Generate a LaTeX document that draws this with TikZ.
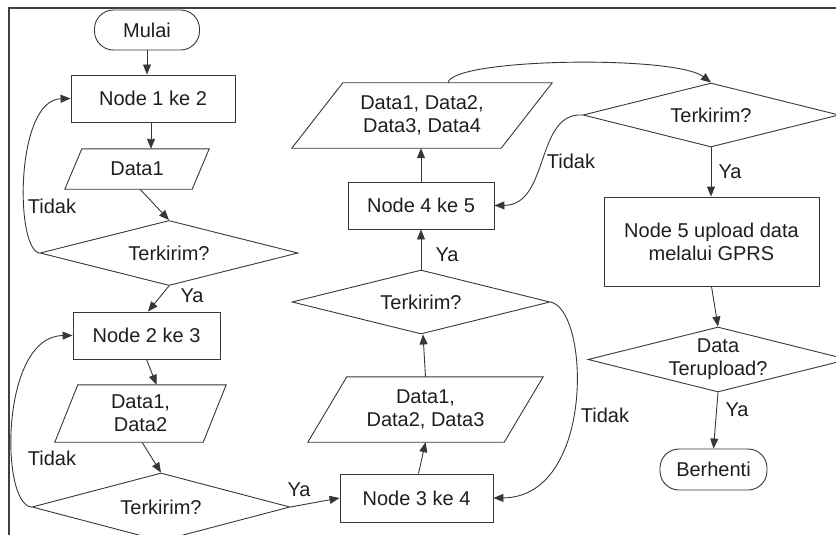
\documentclass[tikz,border=0pt]{standalone}
\usepackage{fontspec}
\setmainfont{Liberation Sans}
\usetikzlibrary{shapes.geometric,arrows.meta}
\definecolor{lc}{RGB}{55,55,55}
\definecolor{tc}{RGB}{30,30,30}
\begin{document}
\begin{tikzpicture}[x=1pt,y=-1pt,
  every node/.style={font=\fontsize{20}{23}\selectfont, text=tc},
  box/.style={draw=lc, line width=0.9pt, rectangle, inner sep=0pt, align=center},
  term/.style={box, rounded corners=19pt},
  io/.style={rectangle, inner sep=0pt, align=center},
  shp/.style={draw=lc, line width=0.9pt, line join=miter},
  dec/.style={draw=lc, line width=0.9pt, diamond, inner sep=0pt, aspect=4},
  lbl/.style={inner sep=0pt, align=center},
  arr/.style={draw=lc, line width=0.9pt, -{Triangle[length=10pt,width=8pt]}},
]
\useasboundingbox (0,0) rectangle (836,535);
\draw[line width=1.4pt, black!75] (9,540) -- (9,8) -- (840,8);

% nodes
\node[term, minimum width=105pt, minimum height=40pt] (m) at (147,30) {Mulai};
\node[box, minimum width=164pt, minimum height=47pt] (n1) at (153,98.5) {Node 1 ke 2};
\node[io, minimum width=127pt, minimum height=40pt] (p1) at (137,169) {Data1};
\draw[shp] ([xshift=-8.5pt]p1.south west) -- ([xshift=8.5pt]p1.north west) -- ([xshift=8.5pt]p1.north east) -- ([xshift=-8.5pt]p1.south east) -- cycle;
\node[dec, minimum width=258pt, minimum height=65pt] (d1) at (169,253) {};
\node[lbl] (t1) at (d1) {Terkirim?};

\node[box, minimum width=147pt, minimum height=47pt] (n2) at (146.5,335.5) {Node 2 ke 3};
\node[io, minimum width=148pt, minimum height=57pt] (p2) at (140.5,413.5) {Data1,\\Data2};
\draw[shp] ([xshift=-11.5pt]p2.south west) -- ([xshift=11.5pt]p2.north west) -- ([xshift=11.5pt]p2.north east) -- ([xshift=-11.5pt]p2.south east) -- cycle;
\node[dec, minimum width=258pt, minimum height=68pt] (d2) at (161,507) {};
\node[lbl] (t2) at (d2) {Terkirim?};

\node[box, minimum width=153pt, minimum height=48pt] (n3) at (416.5,498) {Node 3 ke 4};
\node[io, minimum width=196pt, minimum height=65pt] (p3) at (425.5,409.5) {Data1,\\Data2, Data3};
\draw[shp] ([xshift=-19.5pt]p3.south west) -- ([xshift=19.5pt]p3.north west) -- ([xshift=19.5pt]p3.north east) -- ([xshift=-19.5pt]p3.south east) -- cycle;
\node[dec, minimum width=258pt, minimum height=64pt] (d3) at (421,302) {};
\node[lbl] (t3) at (d3) {Terkirim?};
\node[box, minimum width=146pt, minimum height=47pt] (n4) at (421,205.5) {Node 4 ke 5};
\node[io, minimum width=209pt, minimum height=65pt] (p4) at (422,115.5) {Data1, Data2,\\Data3, Data4};
\draw[shp] ([xshift=-25.5pt]p4.south west) -- ([xshift=25.5pt]p4.north west) -- ([xshift=25.5pt]p4.north east) -- ([xshift=-25.5pt]p4.south east) -- cycle;

\node[dec, minimum width=256pt, minimum height=64pt] (d4) at (711,115) {};
\node[lbl] (t4) at (d4) {Terkirim?};
\node[box, minimum width=215pt, minimum height=89pt] (n5) at (711.5,241.5) {Node 5 upload data\\melalui GPRS};
\node[dec, minimum width=260pt, minimum height=65pt] (d5) at (718,359.5) {};
\node[lbl] (t5) at (d5) {Data\\Terupload?};
\node[term, minimum width=107pt, minimum height=41pt] (b) at (713.5,469.5) {Berhenti};

% connectors
\draw[arr] (m.south) -- (m.south |- n1.north);
\draw[arr] ([xshift=-2pt]n1.south) -- ([xshift=-2pt]n1.south |- p1.north);
\draw[arr] ([xshift=3pt]p1.south) -- (d1.north);
\draw[arr] (d1.west) .. controls (15,250) and (15,100) .. (n1.west);
\draw[arr] (d1.south) -- ([xshift=1.5pt]n2.north);
\draw[arr] (n2.south) -- ([xshift=10pt]n2.south |- p2.north);
\draw[arr] ([xshift=1.5pt]p2.south) -- (d2.north);
\draw[arr] (d2.west) .. controls (0,505) and (0,336) .. (n2.west);
\draw[arr] (d2.east) -- (n3.west);
\draw[arr] ([xshift=2pt]n3.north) -- (p3.south);
\draw[arr] (p3.north) -- ([xshift=2pt]d3.south);
\draw[arr] (d3.east) .. controls (590,310) and (595,497) .. (n3.east);
\draw[arr] (d3.north) -- (n4.south);
\draw[arr] (n4.north) -- (n4.north |- p4.south);
\draw[arr] ([xshift=26pt]p4.north) .. controls (452,58) and (675,55) .. (d4.north);
\draw[arr] (d4.west) .. controls (535,112) and (550,205) .. (n4.east);
\draw[arr] (d4.south) -- (d4.south |- n5.north);
\draw[arr] (n5.south) -- (d5.north);
\draw[arr] (d5.south) -- (b.north);

% labels
\node[lbl] (l1) at (52,206) {Tidak};
\node[lbl] (l2) at (192,296) {Ya};
\node[lbl] (l3) at (52,458) {Tidak};
\node[lbl] (l4) at (299,490) {Ya};
\node[lbl] (l5) at (605,415) {Tidak};
\node[lbl] (l6) at (447,255) {Ya};
\node[lbl] (l7) at (571,161) {Tidak};
\node[lbl] (l8) at (730,172) {Ya};
\node[lbl] (l9) at (737,410) {Ya};
\end{tikzpicture}
\end{document}
